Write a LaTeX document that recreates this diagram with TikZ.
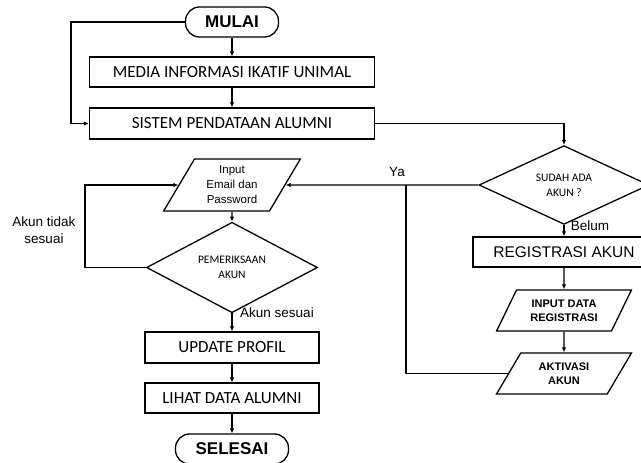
\documentclass[tikz,border=0pt]{standalone}
\usepackage{fontspec}
\newfontfamily\arialfont{Liberation Sans}
\newfontfamily\calibrifont{Carlito}
\usetikzlibrary{shapes.geometric, arrows.meta}

\begin{document}
\begin{tikzpicture}[
    x=1pt, y=-1pt,
    terminal/.style={rectangle, draw, rounded corners=14pt, line width=1.3pt, inner sep=0pt, font=\arialfont\bfseries\fontsize{17}{20}\selectfont},
    process/.style={rectangle, draw, line width=1.3pt, minimum width=285pt, minimum height=31pt, inner sep=0pt, font=\calibrifont\fontsize{17}{20}\selectfont},
    smallbox/.style={process, minimum width=174pt},
    io/.style={trapezium, trapezium left angle=61, trapezium right angle=119, trapezium stretches=true, draw, line width=1.3pt, inner sep=0pt, align=center},
    decision/.style={diamond, draw, line width=1.3pt, minimum width=171pt, minimum height=61pt, inner sep=0pt, align=center, font=\calibrifont\fontsize{11.5}{15}\selectfont},
    lbl/.style={align=center, font=\arialfont\fontsize{13.5}{17}\selectfont},
    arrow/.style={-{Latex[length=5pt, width=4.5pt]}, line width=1.3pt}
]
\useasboundingbox (0,0) rectangle (641,463);

% Main column
\node[terminal, minimum width=93pt, minimum height=30pt] (mulai) at (232, 22) {MULAI};
\node[process, minimum height=30pt] (media) at (232, 72) {MEDIA INFORMASI IKATIF UNIMAL};
\node[process] (sistem) at (232, 123.5) {SISTEM PENDATAAN ALUMNI};

% Login branch
\node[io, minimum width=137pt, minimum height=52pt, font=\arialfont\fontsize{11.5}{15}\selectfont] (input) at (232, 185) {Input\\Email dan\\Password};
\node[decision] (periksa) at (232, 267.5) {PEMERIKSAAN\\AKUN};
\node[smallbox] (update) at (232, 347.5) {UPDATE PROFIL};
\node[smallbox, minimum height=30pt] (lihat) at (232, 398) {LIHAT DATA ALUMNI};
\node[terminal, minimum width=113pt, minimum height=30pt] (selesai) at (232, 449) {SELESAI};

% Registration branch
\node[decision, minimum width=170pt] (sudah) at (564, 185) {SUDAH ADA\\AKUN ?};
\node[process, minimum width=182pt, minimum height=30pt, font=\arialfont\fontsize{15.5}{18}\selectfont] (regis) at (564, 252) {REGISTRASI AKUN};
\node[io, trapezium left angle=57, trapezium right angle=123, minimum width=136pt, minimum height=41pt, font=\arialfont\bfseries\fontsize{11}{14}\selectfont] (data) at (564, 310.5) {INPUT DATA\\REGISTRASI};
\node[io, trapezium left angle=57, trapezium right angle=123, minimum width=136pt, minimum height=41pt, font=\arialfont\bfseries\fontsize{11}{14}\selectfont] (aktivasi) at (564, 373.5) {AKTIVASI\\AKUN};

% Labels
\node[lbl] (ya) at (397, 172) {Ya};
\node[lbl] (belum) at (590, 226) {Belum};
\node[lbl] (tidak) at (44, 230) {Akun tidak\\sesuai};
\node[lbl] (sesuai) at (277, 313) {Akun sesuai};

% Straight arrows
\foreach \a/\b in {mulai/media, media/sistem, input/periksa, periksa/update, update/lihat, lihat/selesai, sudah/regis, regis/data, data/aktivasi} {
    \draw[arrow] (\a.south) -- (\b.north);
}

% Bent connectors
\draw[arrow] (mulai.west) -- ++(-114, 0) |- (sistem.west);
\draw[arrow] (sistem.east) -| (sudah.north);
\draw[arrow] (sudah.west) -- (input.east);
\coordinate (join) at (406, 185);
\draw[line width=1.3pt] (aktivasi.west) -| (join);
\draw[arrow] (periksa.west) -- ++(-61, 0) |- (input.west);

\end{tikzpicture}
\end{document}
